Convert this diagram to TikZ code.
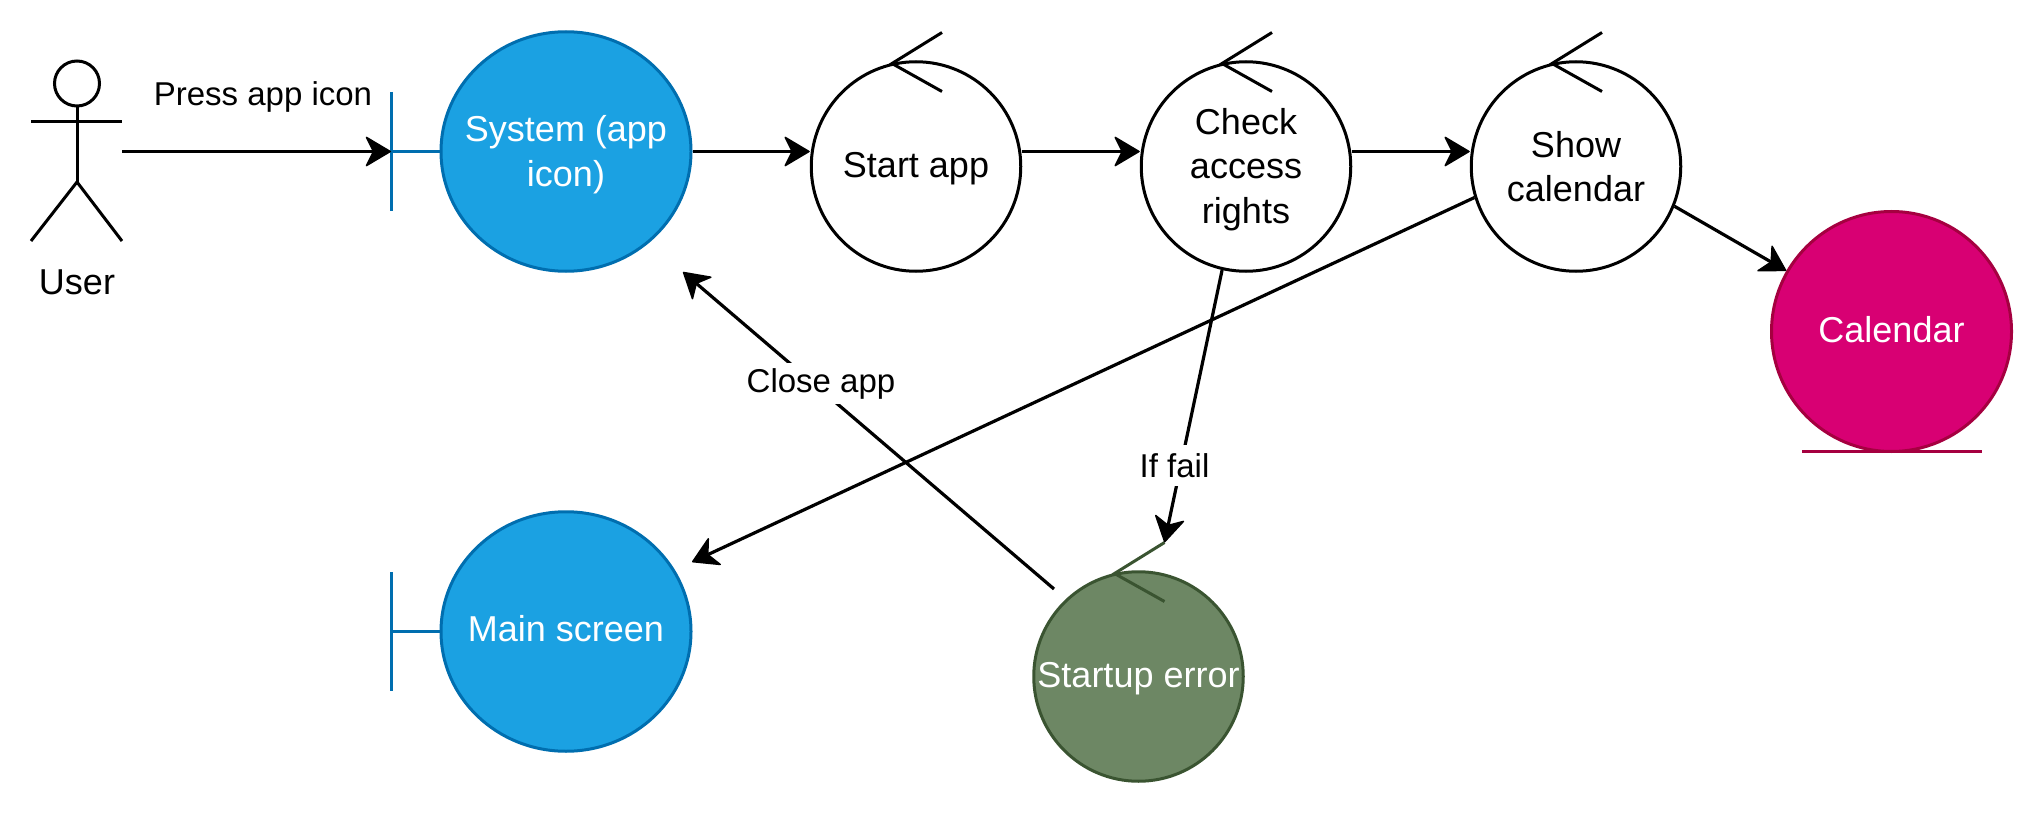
\documentclass[tikz,border=0pt]{standalone}
\usepackage{fontspec}
\setmainfont{Liberation Sans}
\usetikzlibrary{arrows.meta,shapes.geometric}
\definecolor{bluefill}{HTML}{1BA1E2}
\definecolor{bluestroke}{HTML}{006EAF}
\definecolor{pinkfill}{HTML}{D80073}
\definecolor{pinkstroke}{HTML}{A50040}
\definecolor{greenfill}{HTML}{6D8764}
\definecolor{greenstroke}{HTML}{3A5431}
\tikzset{
  base/.style={line width=3pt,line cap=butt,line join=miter},
  nodetext/.style={font=\fontsize{36}{44.5}\selectfont,align=center,inner sep=0pt},
  whitetext/.style={nodetext,text=white},
  ctrl/.style={base,ellipse,inner sep=0pt,draw=black,fill=white,minimum width=209.5pt,minimum height=209.5pt},
  bluebox/.style={base,ellipse,inner sep=0pt,draw=bluestroke,fill=bluefill,minimum width=250pt,minimum height=239.5pt},
  pinkbox/.style={base,ellipse,inner sep=0pt,draw=pinkstroke,fill=pinkfill,minimum width=240pt,minimum height=240pt},
  greenbox/.style={base,ellipse,inner sep=0pt,draw=greenstroke,fill=greenfill,minimum width=209.5pt,minimum height=209.5pt},
  conn/.style={base,line width=3.2pt,draw=black,-{Stealth[length=27pt,width=32pt,inset=8pt,round,line width=1.5pt]}},
  edgelabel/.style={font=\fontsize{33}{40}\selectfont,inner xsep=2pt,inner ysep=0pt,minimum height=41pt},
  whitelabel/.style={edgelabel,fill=white},
}
\newcommand{\ctrlhook}[2][black]{\draw[base,draw=#1] ([shift={(26,-134)}]#2.center) -- ([shift={(-24,-103)}]#2.center) -- ([shift={(26,-75)}]#2.center);}
\begin{document}
\begin{tikzpicture}[x=1pt,y=-1pt]
\useasboundingbox (0,0) rectangle (2043,813);
% actor
\node[base,circle,draw=black,minimum size=45pt,inner sep=0pt] (head) at (77,83.5) {};
\coordinate (hip) at (77,182);
\coordinate (armL) at (31,122);
\coordinate (armR) at (122,122);
\coordinate (legL) at (31,241);
\coordinate (legR) at (122,241);
\coordinate (userhand) at (122,151.5);
\draw[base] (head.south) -- (hip);
\draw[base] (armL) -- (armR);
\draw[base] (legL) -- (hip) -- (legR);
\node[edgelabel,font=\fontsize{36}{40}\selectfont] (userlabel) at (77,282) {User};
% boundaries
\coordinate (sysbar) at (391,151.5);
\coordinate (sysbarT) at (391,92);
\coordinate (sysbarB) at (391,211);
\coordinate (mainbar) at (391,631.5);
\coordinate (mainbarT) at (391,572);
\coordinate (mainbarB) at (391,691);
\node[bluebox,label={[whitetext,yshift=-3pt]center:{System (app\\icon)}}] (sys) at (566,151.5) {};
\node[bluebox,label={[whitetext,yshift=2.5pt]center:{Main screen}}] (main) at (566,631.5) {};
\draw[base,draw=bluestroke] (sysbarT) -- (sysbarB);
\draw[base,draw=bluestroke] (sysbar) -- (sys.west);
\draw[base,draw=bluestroke] (mainbarT) -- (mainbarB);
\draw[base,draw=bluestroke] (mainbar) -- (main.west);
% controls
\node[ctrl,label={[nodetext,yshift=-2.5pt]center:{Start app}}] (start) at (916,166.5) {};
\node[ctrl,label={[nodetext,yshift=-3pt]center:{Check\\access\\rights}}] (check) at (1246,166.5) {};
\node[ctrl,label={[nodetext]center:{Show\\calendar}}] (show) at (1576,166.5) {};
\node[greenbox,label={[whitetext,yshift=-2.5pt]center:{Startup error}}] (err) at (1138.5,676.5) {};
\ctrlhook{start}
\ctrlhook{check}
\ctrlhook{show}
\ctrlhook[greenstroke]{err}
\coordinate (errhook) at ([shift={(26,-134)}]err.center);
\coordinate (closestart) at (1054,589);
\coordinate (closeend) at (683,272);
\coordinate (mainend) at (692,562);
% entity
\node[pinkbox,label={[whitetext,yshift=1.5pt]center:{Calendar}}] (cal) at (1891.5,331.5) {};
\coordinate (calbarL) at (1802,451.5);
\coordinate (calbarR) at (1982,451.5);
\draw[base,draw=pinkstroke] (calbarL) -- (calbarR);
% connectors
\draw[conn] (userhand) -- (sysbar);
\node[edgelabel] (presslabel) at (263,97) {Press app icon};
\draw[conn] (sys.east) -- (sys.east -| start.west);
\draw[conn] (sys.east -| start.east) -- (sys.east -| check.west);
\draw[conn] (sys.east -| check.east) -- (sys.east -| show.west);
\draw[conn] (show.-22.7) -- (cal.150);
\draw[conn] (show.197.5) -- (mainend);
\draw[conn] (check.-103) -- (errhook);
\draw[conn] (closestart) -- (closeend);
\node[whitelabel] (faillabel) at (1174.5,465.5) {If fail};
\node[whitelabel] (closelabel) at (821,383.5) {Close app};
\end{tikzpicture}
\end{document}
